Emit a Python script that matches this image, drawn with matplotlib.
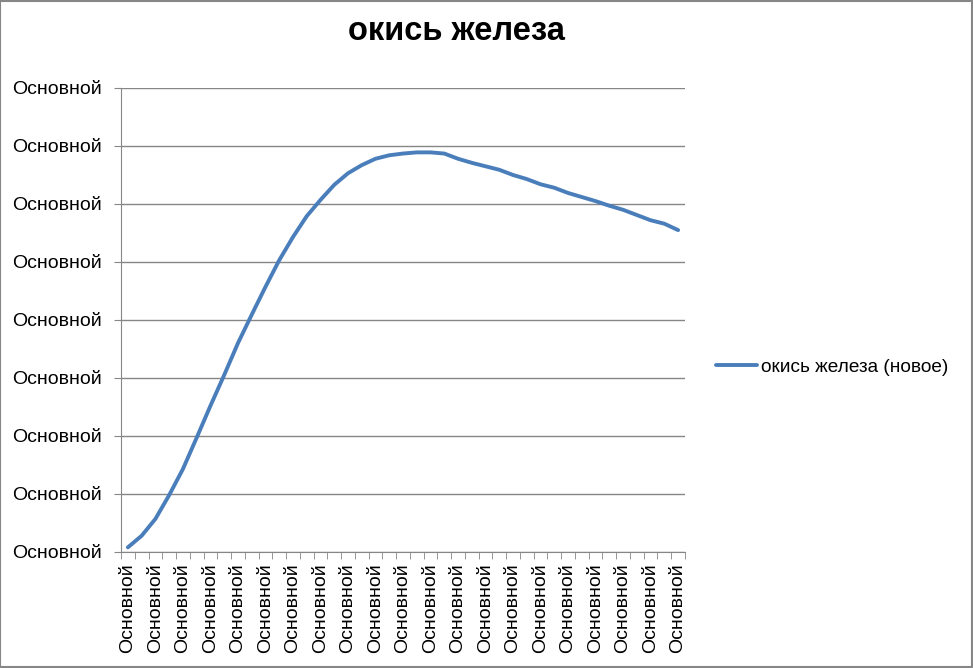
import numpy as np
import matplotlib.pyplot as plt
from matplotlib.ticker import FixedLocator

# values (y axis units = gridline steps)
values = [0.08, 0.28, 0.57, 0.98, 1.43, 1.97, 2.52, 3.05, 3.60, 4.09,
          4.57, 5.03, 5.43, 5.79, 6.07, 6.33, 6.53, 6.67, 6.78, 6.84,
          6.87, 6.89, 6.89, 6.87, 6.78, 6.71, 6.65, 6.59, 6.50, 6.43,
          6.34, 6.28, 6.19, 6.12, 6.05, 5.97, 5.90, 5.81, 5.72, 5.66,
          5.55]
categories = ["Основной"] * len(values)
y_ticks = list(range(9))
y_labels = ["Основной"] * len(y_ticks)

title = "окись железа"
series_name = "окись железа (новое)"

line_color = "#4A7EBB"
grid_color = "#868686"

plt.rcParams['font.family'] = ['Liberation Sans', 'DejaVu Sans']

fig = plt.figure(figsize=(9.73, 6.68), dpi=100)
ax = fig.add_axes([121 / 973, 1 - 552 / 668, (685 - 121) / 973, (552 - 88) / 668])

x = np.arange(len(values))
ax.plot(x, values, color=line_color, lw=2.8, solid_capstyle='round',
        solid_joinstyle='round', label=series_name, zorder=3)

ax.set_xlim(-0.5, len(values) - 0.5)
ax.set_ylim(0, 8)

# y axis
ax.set_yticks(y_ticks)
ax.set_yticklabels(y_labels, fontsize=14)
ax.yaxis.grid(True, color=grid_color, lw=1)
ax.tick_params(axis='y', direction='out', length=5, color=grid_color, pad=9)

# x axis: ticks between categories, label every second category
ax.set_xticks(x[::2])
ax.set_xticklabels(categories[::2], rotation=90, fontsize=14, va='top')
ax.tick_params(axis='x', length=0, pad=8)
ax.xaxis.set_minor_locator(FixedLocator(np.arange(-0.5, len(values), 1.0)))
ax.tick_params(axis='x', which='minor', direction='out', length=5, color=grid_color)

for side in ['top', 'right']:
    ax.spines[side].set_visible(False)
for side in ['left', 'bottom']:
    ax.spines[side].set_color(grid_color)

fig.text(456 / 973, 1 - 31 / 668, title, ha='center', va='center',
         fontsize=23.5, fontweight='bold')

leg = ax.legend(loc='center left', bbox_to_anchor=(1.025, 1 - (367 - 88) / (552 - 88)),
                frameon=False, fontsize=13.7, handlelength=2.15, handletextpad=0.2)

# outer border of the chart area
fig.patches.append(plt.Rectangle((0.0005, 0.0008), 0.998, 0.998, transform=fig.transFigure,
                                 fill=False, edgecolor='#868686', lw=1.5))

fig.savefig("out.png", dpi=100)
